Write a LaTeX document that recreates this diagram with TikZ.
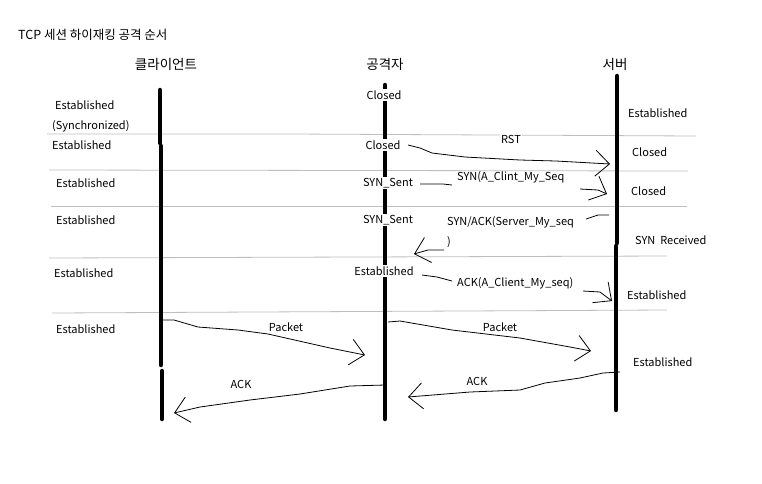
\documentclass[tikz,border=0pt]{standalone}
\usepackage{fontspec}
\setmainfont{Noto Sans CJK KR}
\usetikzlibrary{arrows.meta}
\tikzset{
  life/.style={line width=4.5pt, line cap=round},
  sep/.style={draw=black!25, line width=0.8pt},
  msg/.style={draw=black, line width=0.8pt},
  tip/.style={-{Straight Barb[length=14pt,width=26pt,line width=0.8pt]}},
  lbl/.style={font=\fontsize{11}{13}\selectfont, inner sep=1pt},
  st/.style={lbl, fill=white, inner sep=1.5pt},
  hdr/.style={font=\fontsize{13.5}{15}\selectfont, inner sep=1pt},
}
\begin{document}
\begin{tikzpicture}[x=1pt,y=-1pt]
\useasboundingbox[fill=white] (0,0) rectangle (762,483);
% title and headers
\node[hdr, font=\fontsize{12.5}{14}\selectfont, anchor=west] (title) at (17,35) {TCP 세션 하이재킹 공격 순서};
\node[hdr] (hC) at (166,64) {클라이언트};
\node[hdr] (hA) at (385,64) {공격자};
\node[hdr] (hS) at (615,64) {서버};
% separators
\draw[sep] (47,134) -- (290,134) -- (696,136);
\draw[sep] (49,170) -- (688,171);
\draw[sep] (51,206) -- (687,206);
\draw[sep] (49,258) -- (667,256);
\draw[sep] (52,313) -- (667,310);
% lifelines
\coordinate (c1) at (160,90); \coordinate (c2) at (160,143);
\coordinate (c3) at (161,146); \coordinate (c4) at (161,365);
\coordinate (c5) at (162,371); \coordinate (c6) at (162,419);
\draw[life] (c1) -- (c2); \draw[life] (c3) -- (c4); \draw[life] (c5) -- (c6);
\coordinate (a1) at (385,85); \coordinate (a2) at (385,419);
\draw[life] (a1) -- (a2);
\coordinate (s1) at (617,76); \coordinate (s2) at (617,243);
\coordinate (s3) at (616,246); \coordinate (s4) at (616,410);
\draw[life] (s1) -- (s2); \draw[life] (s3) -- (s4);
% client states
\node[lbl, anchor=west] (cE1) at (54,105) {Established};
\node[lbl, anchor=west] (cSy) at (51,126) {(Synchronized)};
\node[lbl, anchor=west] (cE2) at (51,145) {Established};
\node[lbl, anchor=west] (cE3) at (55,183) {Established};
\node[lbl, anchor=west] (cE4) at (55,220) {Established};
\node[lbl, anchor=west] (cE5) at (53,273) {Established};
\node[lbl, anchor=west] (cE6) at (55,329) {Established};
% attacker states
\node[st] (aC1) at (384,95) {Closed};
\node[st] (aC2) at (383,145) {Closed};
\node[st] (aS1) at (388,183) {SYN\_Sent};
\node[st] (aS2) at (388,220) {SYN\_Sent};
\node[st] (aE) at (384,271) {Established};
% server states
\node[lbl, anchor=west] (sE1) at (627,113) {Established};
\node[lbl, anchor=west] (sC1) at (631,152) {Closed};
\node[lbl, anchor=west] (sC2) at (630,191) {Closed};
\node[lbl, anchor=west] (sR) at (634,240) {SYN\ \ Received};
\node[lbl, anchor=west] (sE2) at (626,295) {Established};
\node[lbl, anchor=west] (sE3) at (632,362) {Established};
% message labels
\node[lbl, fill=white] (mRST) at (511,139) {RST};
\node[lbl, anchor=west] (mSYN) at (456,177) {SYN(A\_Clint\_My\_Seq};
\node[lbl, anchor=west] (mSA) at (446,222) {SYN/ACK(Server\_My\_seq};
\node[lbl, anchor=west] (mSA2) at (446,242) {)};
\node[lbl, anchor=west] (mACK) at (456,283) {ACK(A\_Client\_My\_seq)};
\node[lbl] (mP1) at (286,327) {Packet};
\node[lbl] (mP2) at (500,327) {Packet};
\node[lbl] (mA1) at (241,384) {ACK};
\node[lbl] (mA2) at (477,381) {ACK};
% arrows
\coordinate (rS) at (408,145); \coordinate (rE) at (610,164);
\draw[msg,tip] (rS) -- (420,148) -- (432,153) -- (465,157) -- (520,160) -- (556,161) -- (rE);
\coordinate (y1) at (420,184); \coordinate (y2) at (452,185);
\draw[msg] (y1) -- (443,184) -- (y2);
\coordinate (y3) at (580,189); \coordinate (y4) at (607,194);
\draw[msg,tip] (y3) -- (598,190) -- (y4);
\coordinate (k1) at (609,215); \coordinate (k2) at (586,219);
\draw[msg] (k1) -- (598,215) -- (k2);
\coordinate (k3) at (444,250); \coordinate (k4) at (414,254);
\draw[msg,tip] (k3) -- (428,250) -- (k4);
\coordinate (q1) at (422,275); \coordinate (q2) at (452,281);
\draw[msg] (q1) -- (437,277) -- (q2);
\coordinate (q3) at (583,291); \coordinate (q4) at (612,301);
\draw[msg,tip] (q3) -- (600,292) -- (q4);
\coordinate (p1) at (162,320); \coordinate (p2) at (365,355);
\draw[msg,tip] (p1) -- (174,320) -- (198,327) -- (238,330) -- (268,334) -- (330,348) -- (p2);
\coordinate (p3) at (388,322); \coordinate (p4) at (591,351);
\draw[msg,tip] (p3) -- (400,321) -- (452,330) -- (520,338) -- (570,347) -- (p4);
\coordinate (b1) at (385,385); \coordinate (b2) at (174,413);
\draw[msg,tip] (b1) -- (350,386) -- (300,394) -- (250,400) -- (200,407) -- (b2);
\coordinate (b3) at (620,372); \coordinate (b4) at (408,397);
\draw[msg,tip] (b3) -- (603,373) -- (580,378) -- (545,383) -- (520,390) -- (470,392) -- (b4);
\end{tikzpicture}
\end{document}
